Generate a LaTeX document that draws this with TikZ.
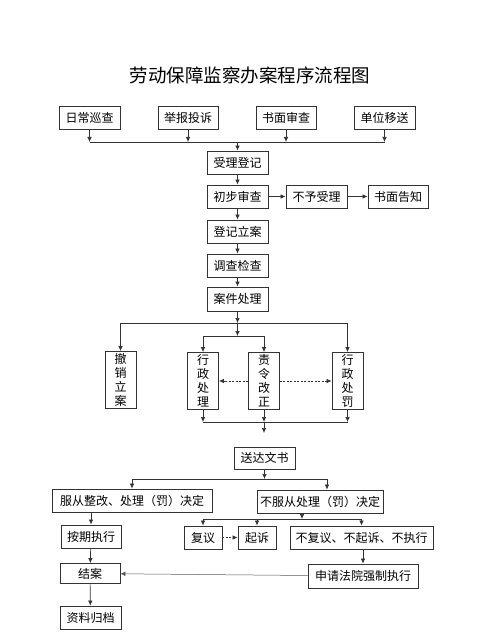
\documentclass[tikz,border=0pt]{standalone}
\usepackage{fontspec}
\newfontfamily\cjk{Noto Sans CJK SC}
\usetikzlibrary{arrows.meta}

\begin{document}
\begin{tikzpicture}[x=1pt,y=-1pt,
  every node/.style={font=\cjk\fontsize{12}{14}\selectfont,inner sep=0pt},
  box/.style={draw=black!80,line width=0.8pt,minimum height=23pt},
  tallbox/.style={draw=black!80,line width=0.8pt,minimum width=31pt,minimum height=57pt,align=center},
  arr/.style={-{Latex[length=5pt,width=4.5pt]},draw=black!80,line width=0.7pt},
  ln/.style={draw=black!80,line width=0.7pt},
  dsh/.style={arr,dashed,dash pattern=on 2pt off 1.5pt}]
  \useasboundingbox (0,0) rectangle (500,636);

  % title
  \node[font=\cjk\fontsize{18.5}{20}\selectfont] (title) at (250,75) {劳动保障监察办案程序流程图};

  % sources
  \node[box,minimum width=61pt] (rc) at (89.5,117.5) {日常巡查};
  \node[box,minimum width=60pt] (jb) at (188,117.5) {举报投诉};
  \node[box,minimum width=60pt] (sm) at (286,117.5) {书面审查};
  \node[box,minimum width=61pt] (dw) at (384.5,117.5) {单位移送};

  % main line
  \node[box,minimum width=61pt] (sl) at (237.5,162.5) {受理登记};
  \node[box,minimum width=61pt] (cb) at (237.5,196.5) {初步审查};
  \node[box,minimum width=61pt] (by) at (316.5,196.5) {不予受理};
  \node[box,minimum width=60pt] (gz) at (398,196.5) {书面告知};
  \node[box,minimum width=61pt] (dj) at (237.5,231.5) {登记立案};
  \node[box,minimum width=61pt] (dc) at (237.5,265.5) {调查检查};
  \node[box,minimum width=61pt,minimum height=24pt] (aj) at (237.5,299) {案件处理};

  % handling
  \node[tallbox] (cx) at (120.5,380) {撤\\销\\立\\案};
  \node[tallbox] (xzcl) at (203,381) {行\\政\\处\\理};
  \node[tallbox] (zl) at (264,381) {责\\令\\改\\正};
  \node[tallbox] (xzcf) at (347.5,381) {行\\政\\处\\罚};

  % decisions
  \node[box,minimum width=61pt,minimum height=22pt] (sd) at (264.5,458) {送达文书};
  \node[box,minimum width=160pt] (fc) at (132,500.5) {服从整改、处理（罚）决定};
  \node[box,minimum width=126pt] (bf) at (320,501.5) {不服从处理（罚）决定};
  \node[box,minimum width=60pt] (aq) at (91,536.5) {按期执行};
  \node[box,minimum width=38pt] (fy) at (203,537.5) {复议};
  \node[box,minimum width=38pt] (qs) at (257,537.5) {起诉};
  \node[box,minimum width=143pt] (bfy) at (361.5,537.5) {不复议、不起诉、不执行};
  \node[box,minimum width=60pt,minimum height=20pt] (ja) at (90,573.5) {结案};
  \node[box,minimum width=110pt,minimum height=24pt] (sq) at (363,576) {申请法院强制执行};
  \node[box,minimum width=61pt] (zd) at (90.5,617.5) {资料归档};

  % junction levels
  \coordinate (h1) at (0,142);
  \coordinate (h2) at (0,323);
  \coordinate (h3) at (0,336);
  \coordinate (h4) at (0,422);
  \coordinate (sdin) at (264,433);
  \coordinate (h5) at (0,479);
  \coordinate (bfr) at (327,479);
  \coordinate (bfl) at (302,513);
  \coordinate (h6) at (0,519);

  % sources to 受理登记
  \foreach \n in {rc,jb,sm,dw}
    \draw[arr] (\n) -- (\n |- h1);
  \draw[ln] (rc |- h1) -- (dw |- h1);
  \draw[arr] (sl |- h1) -- (sl);

  \draw[arr] (sl) -- (cb);
  \draw[arr] (cb) -- (by);
  \draw[arr] (by) -- (gz);
  \draw[arr] (cb) -- (dj);
  \draw[arr] (dj) -- (dc);
  \draw[arr] (dc) -- (aj);

  % 案件处理 branches
  \draw[arr] (aj) -- (aj |- h2);
  \draw[ln] (cx |- h2) -- (xzcf |- h2);
  \draw[arr] (cx |- h2) -- (cx);
  \draw[arr] (xzcf |- h2) -- (xzcf);
  \draw[arr] (aj |- h2) -- (aj |- h3);
  \draw[ln] (xzcl |- h3) -- (zl |- h3);
  \draw[arr] (xzcl |- h3) -- (xzcl);
  \draw[arr] (zl |- h3) -- (zl);
  \draw[dsh] (zl) -- (xzcl);
  \draw[dsh] (zl) -- (xzcf);

  \foreach \n in {xzcl,zl,xzcf}
    \draw[arr] (\n) -- (\n |- h4);
  \draw[ln] (xzcl |- h4) -- (xzcf |- h4);
  \draw[arr] (zl |- h4) -- (sdin);

  % 送达文书 branches
  \draw[arr] (sd) -- (sd |- h5);
  \draw[ln] (fc |- h5) -- (bfr);
  \draw[arr] (fc |- h5) -- (fc);
  \draw[arr] (bfr) -- (bfr |- bf.north);
  \draw[arr] (fc.south -| aq) -- (aq);
  \draw[arr] (bfl) -- (bfl |- h6);
  \draw[ln] (fy |- h6) -- (bfy |- h6);
  \draw[arr] (fy |- h6) -- (fy);
  \draw[arr] (qs |- h6) -- (qs);
  \draw[arr] (bfy |- h6) -- (bfy);
  \draw[dsh] (fy) -- (qs);

  \draw[arr] (aq) -- (ja);
  \draw[arr] (bfy.south -| sq) -- (sq);
  \draw[arr,draw=black!65,line width=0.5pt] (sq) -- (ja);
  \draw[arr] (ja) -- (zd);
\end{tikzpicture}
\end{document}
